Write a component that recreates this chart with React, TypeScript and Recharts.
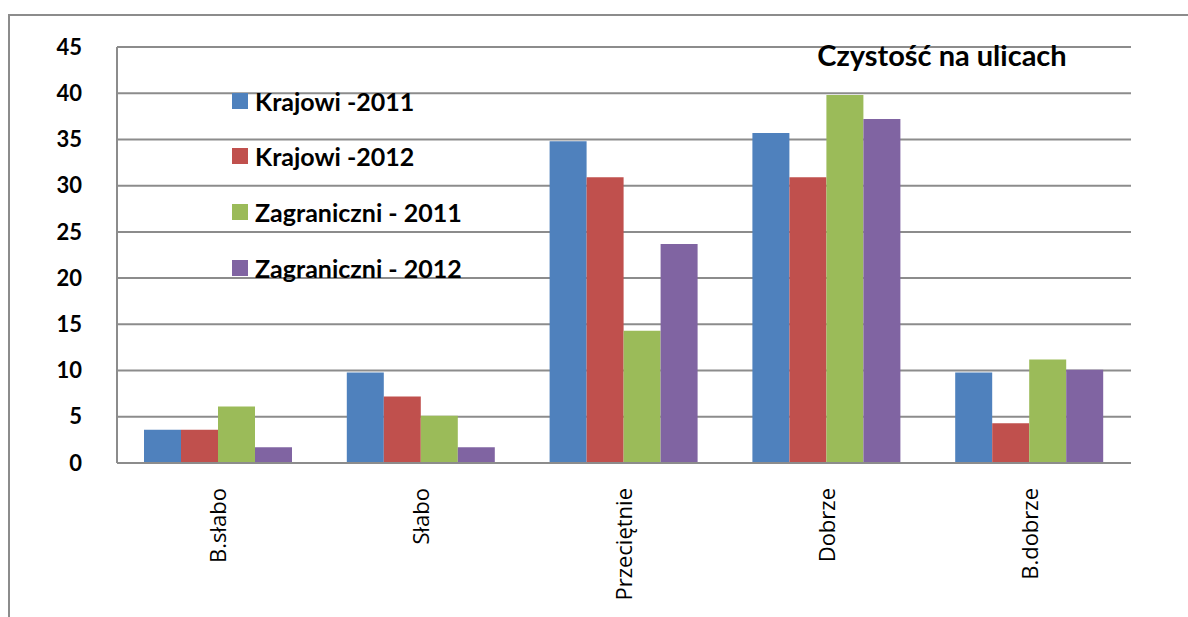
import { BarChart, Bar, XAxis, YAxis, CartesianGrid } from "recharts";

const kategorie = ["B.słabo", "Słabo", "Przeciętnie", "Dobrze", "B.dobrze"];
const krajowi2011 = [3.6, 9.8, 34.8, 35.7, 9.8];
const krajowi2012 = [3.6, 7.2, 30.9, 30.9, 4.3];
const zagraniczni2011 = [6.1, 5.1, 14.3, 39.8, 11.2];
const zagraniczni2012 = [1.7, 1.7, 23.7, 37.2, 10.1];
const yTicks = [0, 5, 10, 15, 20, 25, 30, 35, 40, 45];

const serie = [
  { key: "k11", nazwa: "Krajowi -2011", kolor: "#4F81BD" },
  { key: "k12", nazwa: "Krajowi -2012", kolor: "#C0504D" },
  { key: "z11", nazwa: "Zagraniczni - 2011", kolor: "#9BBB59" },
  { key: "z12", nazwa: "Zagraniczni - 2012", kolor: "#8064A2" },
];

const dane = kategorie.map((nazwa, i) => ({
  nazwa,
  k11: krajowi2011[i],
  k12: krajowi2012[i],
  z11: zagraniczni2011[i],
  z12: zagraniczni2012[i],
}));

const FONT = "Lato, 'Open Sans', sans-serif";

function YTick({ x, y, payload }: any) {
  return (
    <text x={x - 27} y={y} dy="0.35em" textAnchor="end" fontFamily={FONT} fontWeight="bold" fontSize={22} fill="#000">
      {payload.value}
    </text>
  );
}

function XTick({ x, y, payload }: any) {
  return (
    <g transform={`translate(${x},${y})`}>
      <text
        transform="rotate(-90)"
        x={-17}
        y={0}
        dy="0.36em"
        textAnchor="end"
        fontFamily="'Open Sans', sans-serif"
        fontSize={22}
        fill="#000"
      >
        {payload.value}
      </text>
    </g>
  );
}

// legenda jako nakładka, żeby nie zabierała miejsca wykresowi
function Legenda() {
  return (
    <div style={{ position: "absolute", left: 232, top: 73, fontFamily: FONT, fontWeight: "bold", fontSize: 25 }}>
      {serie.map((s) => (
        <div key={s.key} style={{ display: "flex", alignItems: "center", height: 55.6 }}>
          <span style={{ width: 16, height: 16, background: s.kolor, marginRight: 7, display: "inline-block" }} />
          <span>{s.nazwa}</span>
        </div>
      ))}
    </div>
  );
}

export default function App() {
  return (
    <div style={{ position: "absolute", top: 0, left: 0, width: 1188, height: 617, background: "#fff" }}>
      <div
        style={{
          position: "absolute",
          left: 8,
          top: 14,
          width: 1180,
          height: 603,
          borderTop: "2px solid #8c8c8c",
          borderLeft: "2px solid #8c8c8c",
          boxSizing: "border-box",
        }}
      />
      <BarChart
        width={1188}
        height={617}
        data={dane}
        margin={{ top: 47, right: 57, left: 57, bottom: 0 }}
        barCategoryGap={27}
        barGap={0}
      >
        <CartesianGrid vertical={false} stroke="#8c8c8c" strokeWidth={2} />
        <XAxis
          dataKey="nazwa"
          height={154}
          interval={0}
          tickLine={false}
          axisLine={{ stroke: "#8c8c8c", strokeWidth: 2 }}
          tick={<XTick />}
        />
        <YAxis
          width={60}
          domain={[0, 45]}
          ticks={yTicks}
          interval={0}
          tickLine={false}
          axisLine={{ stroke: "#8c8c8c", strokeWidth: 2 }}
          tick={<YTick />}
        />
        {serie.map((s) => (
          <Bar key={s.key} dataKey={s.key} name={s.nazwa} fill={s.kolor} isAnimationActive={false} />
        ))}
      </BarChart>
      <Legenda />
      <div
        style={{
          position: "absolute",
          left: 802,
          top: 38,
          width: 280,
          textAlign: "center",
          fontFamily: FONT,
          fontWeight: "bold",
          fontSize: 29,
          lineHeight: "34px",
          color: "#000",
        }}
      >
        Czystość na ulicach
      </div>
    </div>
  );
}
